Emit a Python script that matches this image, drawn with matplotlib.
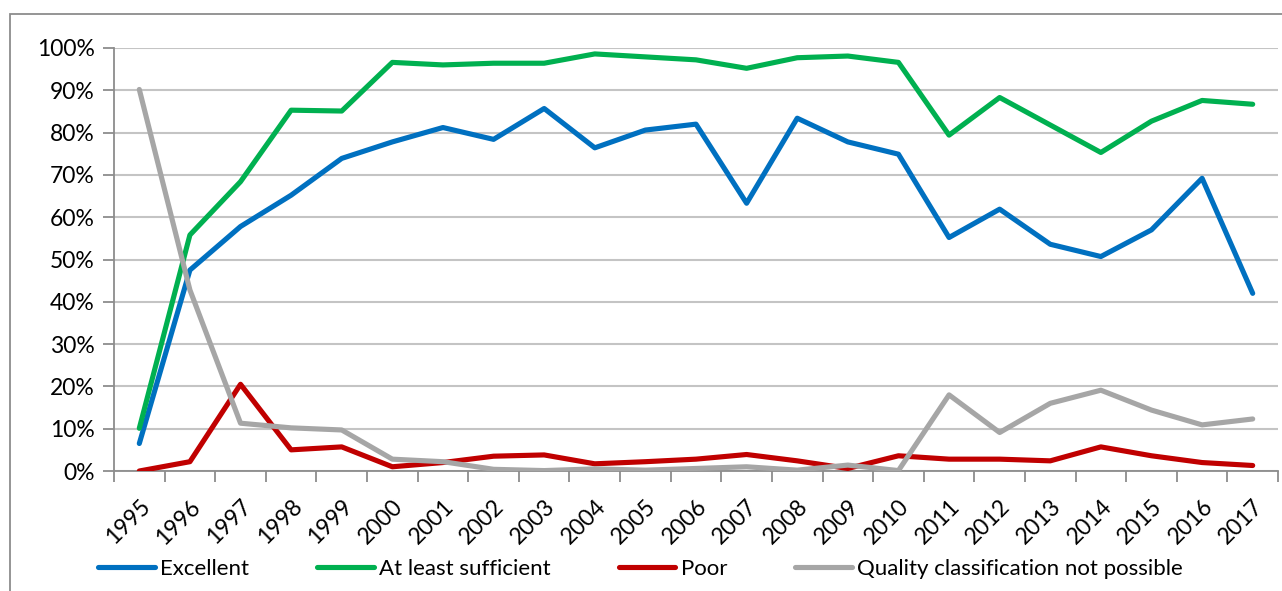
import matplotlib
matplotlib.use("Agg")
import matplotlib.pyplot as plt
from matplotlib.ticker import FixedLocator, PercentFormatter
from matplotlib.lines import Line2D

years = list(range(1995, 2018))

excellent = [6.5, 47.5, 57.8, 65.2, 73.9, 77.8, 81.2, 78.4, 85.7, 76.4, 80.6, 82.0,
             63.3, 83.4, 77.8, 74.9, 55.2, 61.9, 53.6, 50.7, 57.0, 69.2, 42.0]
at_least_sufficient = [10.1, 55.8, 68.4, 85.3, 85.1, 96.6, 96.0, 96.4, 96.4, 98.6, 97.9, 97.2,
                       95.2, 97.7, 98.1, 96.6, 79.4, 88.3, 81.8, 75.3, 82.7, 87.6, 86.7]
poor = [0.0, 2.2, 20.5, 5.0, 5.7, 1.0, 2.0, 3.5, 3.8, 1.7, 2.2, 2.8,
        3.9, 2.4, 0.6, 3.6, 2.8, 2.8, 2.4, 5.7, 3.6, 2.0, 1.3]
not_possible = [90.2, 42.8, 11.3, 10.2, 9.7, 2.8, 2.2, 0.4, 0.1, 0.5, 0.2, 0.6,
                1.0, 0.2, 1.4, 0.1, 18.0, 9.1, 16.0, 19.1, 14.4, 10.9, 12.3]

series = [
    ("Excellent", excellent, "#0070C0"),
    ("At least sufficient", at_least_sufficient, "#00B050"),
    ("Poor", poor, "#C00000"),
    ("Quality classification not possible", not_possible, "#A6A6A6"),
]

plt.rcParams["font.family"] = ["Lato", "DejaVu Sans"]
FS = 16
LW = 3.7

W, H = 1282, 591
fig = plt.figure(figsize=(W / 100, H / 100), dpi=100)
fig.patch.set_facecolor("white")

# chart-area frame (left and top edges fall inside the canvas)
frame = plt.Rectangle((10 / W, -0.05), 1.1, 1 - 14 / H + 0.05, transform=fig.transFigure,
                      fill=False, edgecolor="#8C8C8C", linewidth=1.3)
fig.add_artist(frame)

ax = fig.add_axes([114 / W, 1 - 471 / H, (1278 - 114) / W, (471 - 48) / H])
x = list(range(len(years)))

ax.set_axisbelow(True)
ax.yaxis.grid(True, color="#C4C4C4", linewidth=1.5)
for label, vals, color in series:
    ax.plot(x, [v / 100 for v in vals], color=color, linewidth=LW,
            solid_capstyle="round", solid_joinstyle="round", label=label, zorder=3)

ax.set_xlim(-0.5, len(years) - 0.5)
ax.set_ylim(0, 1)
ax.yaxis.set_major_locator(FixedLocator([i / 10 for i in range(11)]))
ax.yaxis.set_major_formatter(PercentFormatter(1.0, decimals=0))

ax.set_xticks(x)
ax.set_xticklabels([str(y) for y in years], rotation=45, ha="right", va="top",
                   rotation_mode="anchor")
ax.xaxis.set_minor_locator(FixedLocator([i - 0.5 for i in range(len(years) + 1)]))
ax.tick_params(axis="x", which="major", length=0, pad=18, labelsize=FS + 0.5)
ax.tick_params(axis="x", which="minor", length=8, width=1.3, color="#8C8C8C", direction="out")
ax.tick_params(axis="y", length=8, width=1.3, color="#8C8C8C", direction="out",
               labelsize=FS + 0.5, pad=6)

for side in ("top", "right"):
    ax.spines[side].set_visible(False)
for side in ("left", "bottom"):
    ax.spines[side].set_color("#8C8C8C")
    ax.spines[side].set_linewidth(1.3)

handles = [Line2D([], [], color=c, linewidth=LW, solid_capstyle="round") for _, _, c in series]
labels = [s[0] for s in series]
fig.legend(handles, labels, loc="center left", bbox_to_anchor=(98 / W, 1 - 569 / H),
           ncol=4, frameon=False, fontsize=FS, handlelength=2.55, handletextpad=0.25,
           columnspacing=3.05, borderpad=0, borderaxespad=0)

fig.savefig("out.png", dpi=100, facecolor="white")
